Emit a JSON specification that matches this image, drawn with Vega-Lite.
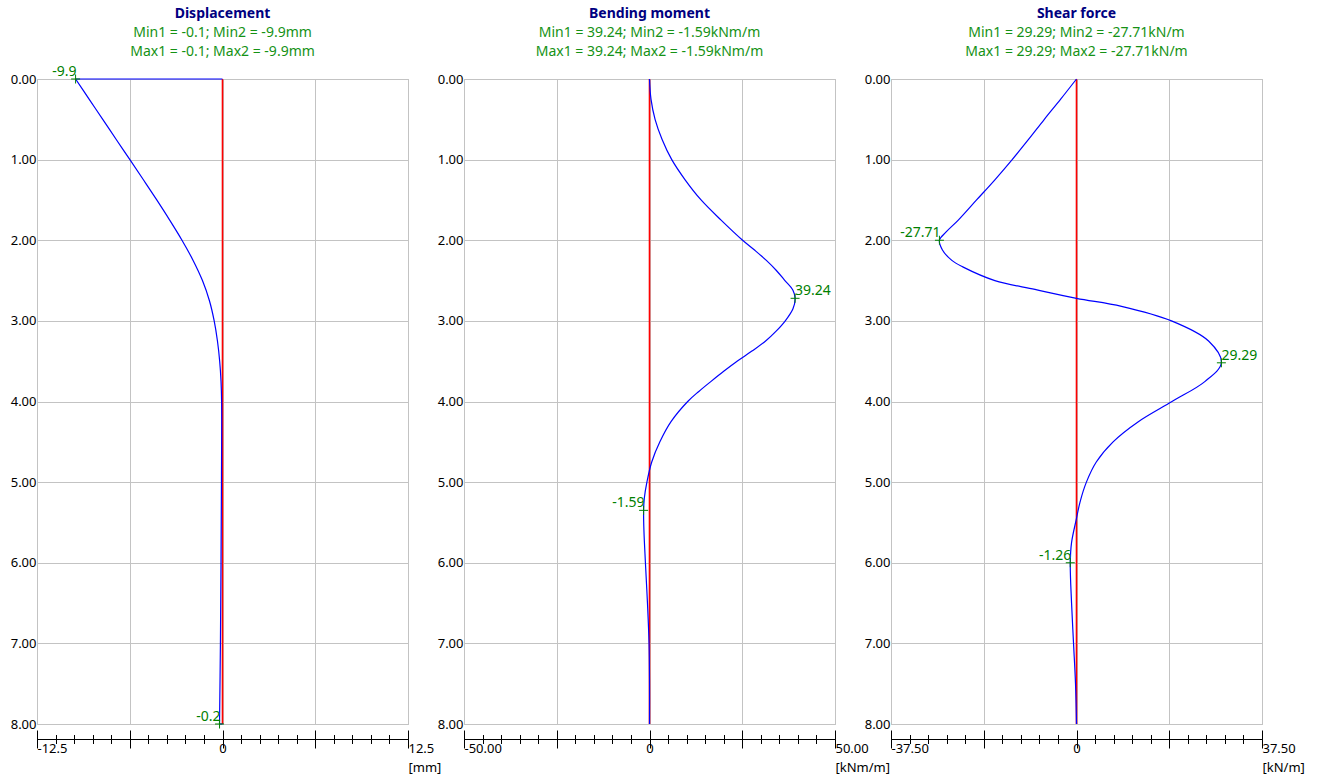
{
  "$schema": "https://vega.github.io/schema/vega-lite/v6.json",
  "background": "white",
  "padding": {"left": 9, "top": 6, "right": 5, "bottom": 5},
  "bounds": "flush",
  "spacing": 56,
  "datasets": {
    "zero": [{"v": 0, "d": 0}, {"v": 0, "d": 8}],
    "disp": [
      {"i": 0, "seg": "top", "v": 0, "d": 0}, {"i": 1, "seg": "top", "v": -9.9, "d": 0},
      {"i": 2, "seg": "curve", "v": -9.9, "d": 0}, {"i": 3, "seg": "curve", "v": -8.99, "d": 0.25}, {"i": 4, "seg": "curve", "v": -8.07, "d": 0.5},
      {"i": 5, "seg": "curve", "v": -7.16, "d": 0.75}, {"i": 6, "seg": "curve", "v": -6.24, "d": 1.0}, {"i": 7, "seg": "curve", "v": -5.33, "d": 1.25}, {"i": 8, "seg": "curve", "v": -4.43, "d": 1.5},
      {"i": 9, "seg": "curve", "v": -3.56, "d": 1.75}, {"i": 10, "seg": "curve", "v": -2.73, "d": 2.0}, {"i": 11, "seg": "curve", "v": -1.98, "d": 2.25}, {"i": 12, "seg": "curve", "v": -1.35, "d": 2.5},
      {"i": 13, "seg": "curve", "v": -0.88, "d": 2.75}, {"i": 14, "seg": "curve", "v": -0.56, "d": 3.0}, {"i": 15, "seg": "curve", "v": -0.34, "d": 3.25}, {"i": 16, "seg": "curve", "v": -0.19, "d": 3.5},
      {"i": 17, "seg": "curve", "v": -0.1, "d": 3.75}, {"i": 18, "seg": "curve", "v": -0.06, "d": 4.0}, {"i": 19, "seg": "curve", "v": -0.07, "d": 5.0}, {"i": 20, "seg": "curve", "v": -0.1, "d": 6.0},
      {"i": 21, "seg": "curve", "v": -0.14, "d": 7.0}, {"i": 22, "seg": "curve", "v": -0.2, "d": 8.0},
      {"i": 23, "seg": "bottom", "v": -0.2, "d": 8.0}, {"i": 24, "seg": "bottom", "v": 0, "d": 8.0}
    ],
    "moment": [
      {"i": 0, "v": 0, "d": 0}, {"i": 1, "v": 0.4, "d": 0.25}, {"i": 2, "v": 1.5, "d": 0.5}, {"i": 3, "v": 3.4, "d": 0.75},
      {"i": 4, "v": 6.0, "d": 1.0}, {"i": 5, "v": 9.6, "d": 1.25}, {"i": 6, "v": 13.9, "d": 1.5}, {"i": 7, "v": 19.3, "d": 1.75},
      {"i": 8, "v": 25.1, "d": 2.0}, {"i": 9, "v": 28.4, "d": 2.125}, {"i": 10, "v": 31.5, "d": 2.25}, {"i": 11, "v": 34.2, "d": 2.375},
      {"i": 12, "v": 36.5, "d": 2.5}, {"i": 13, "v": 38.66, "d": 2.62}, {"i": 14, "v": 39.24, "d": 2.72}, {"i": 15, "v": 38.67, "d": 2.85},
      {"i": 16, "v": 36.6, "d": 3.0}, {"i": 17, "v": 34.2, "d": 3.125}, {"i": 18, "v": 31.3, "d": 3.25}, {"i": 19, "v": 27.6, "d": 3.375},
      {"i": 20, "v": 23.6, "d": 3.5}, {"i": 21, "v": 20.0, "d": 3.625}, {"i": 22, "v": 16.6, "d": 3.75}, {"i": 23, "v": 13.3, "d": 3.875},
      {"i": 24, "v": 10.3, "d": 4.0}, {"i": 25, "v": 5.8, "d": 4.25}, {"i": 26, "v": 2.8, "d": 4.5}, {"i": 27, "v": 0.6, "d": 4.75},
      {"i": 28, "v": -0.7, "d": 5.0}, {"i": 29, "v": -1.4, "d": 5.2}, {"i": 30, "v": -1.59, "d": 5.35}, {"i": 31, "v": -1.5, "d": 5.6},
      {"i": 32, "v": -1.1, "d": 6.0}, {"i": 33, "v": -0.55, "d": 6.5}, {"i": 34, "v": -0.12, "d": 7.0}, {"i": 35, "v": 0, "d": 7.5}, {"i": 36, "v": 0, "d": 8.0}
    ],
    "shear": [
      {"i": 0, "v": 0, "d": 0}, {"i": 1, "v": -3.2, "d": 0.25}, {"i": 2, "v": -6.5, "d": 0.5}, {"i": 3, "v": -9.7, "d": 0.75},
      {"i": 4, "v": -13.0, "d": 1.0}, {"i": 5, "v": -16.5, "d": 1.25}, {"i": 6, "v": -20.2, "d": 1.5}, {"i": 7, "v": -23.9, "d": 1.75},
      {"i": 8, "v": -26.4, "d": 1.9}, {"i": 9, "v": -27.71, "d": 2.0}, {"i": 10, "v": -27.1, "d": 2.12}, {"i": 11, "v": -25.2, "d": 2.25},
      {"i": 12, "v": -23.0, "d": 2.33}, {"i": 13, "v": -16.5, "d": 2.5}, {"i": 14, "v": -8.4, "d": 2.61}, {"i": 15, "v": 0, "d": 2.72},
      {"i": 16, "v": 9.1, "d": 2.82}, {"i": 17, "v": 19.2, "d": 3.0}, {"i": 18, "v": 26.7, "d": 3.25}, {"i": 19, "v": 29.29, "d": 3.52},
      {"i": 20, "v": 26.0, "d": 3.75}, {"i": 21, "v": 19.3, "d": 4.0}, {"i": 22, "v": 12.5, "d": 4.25}, {"i": 23, "v": 7.4, "d": 4.5},
      {"i": 24, "v": 4.0, "d": 4.75}, {"i": 25, "v": 2.0, "d": 5.0}, {"i": 26, "v": 0.7, "d": 5.25}, {"i": 27, "v": 0, "d": 5.45},
      {"i": 28, "v": -1.0, "d": 5.75}, {"i": 29, "v": -1.26, "d": 6.0}, {"i": 30, "v": -1.0, "d": 6.5}, {"i": 31, "v": -0.6, "d": 7.0},
      {"i": 32, "v": -0.2, "d": 7.5}, {"i": 33, "v": 0, "d": 8.0}
    ],
    "disp_pts": [{"v": -9.9, "d": 0, "label": "-9.9", "side": "L"}, {"v": -0.2, "d": 8, "label": "-0.2", "side": "L"}],
    "moment_pts": [{"v": 39.24, "d": 2.72, "label": "39.24", "side": "R"}, {"v": -1.59, "d": 5.35, "label": "-1.59", "side": "L"}],
    "shear_pts": [{"v": -27.71, "d": 2.0, "label": "-27.71", "side": "L"}, {"v": 29.29, "d": 3.52, "label": "29.29", "side": "R"}, {"v": -1.26, "d": 6.0, "label": "-1.26", "side": "L"}]
  },
  "hconcat": [
    {
      "width": 371, "height": 645,
      "title": {"text": "Displacement", "subtitle": ["Min1 = -0.1; Min2 = -9.9mm", "Max1 = -0.1; Max2 = -9.9mm"]},
      "resolve": {"axis": {"x": "independent", "y": "independent"}},
      "layer": [
        {
          "data": {"name": "zero"},
          "mark": {"type": "line", "color": "#ff0000", "strokeWidth": 1.6},
          "encoding": {
            "x": {"field": "v", "type": "quantitative", "scale": {"domain": [-12.5, 12.5], "nice": false, "zero": false},
              "axis": {"orient": "bottom", "offset": 15, "values": [-12.5,-11.25,-10,-8.75,-7.5,-6.25,-5,-3.75,-2.5,-1.25,0,1.25,2.5,3.75,5,6.25,7.5,8.75,10,11.25,12.5], "tickSize": 4.5, "domain": false, "labels": false, "grid": false, "title": null}},
            "y": {"field": "d", "type": "quantitative", "scale": {"domain": [0, 8], "reverse": true, "nice": false, "zero": false},
              "axis": {"orient": "left", "values": [0,1,2,3,4,5,6,7,8], "format": ".2f", "ticks": false, "domain": false, "labelPadding": 1, "grid": true, "title": null}}
          }
        },
        {
          "data": {"name": "disp"},
          "mark": {"type": "line", "color": "#0000ff", "strokeWidth": 1.2, "interpolate": "catmull-rom"},
          "encoding": {
            "x": {"field": "v", "type": "quantitative", "scale": {"domain": [-12.5, 12.5], "nice": false, "zero": false},
              "axis": {"orient": "bottom", "offset": 15, "values": [-12.5, -6.25, 0, 6.25, 12.5], "tickSize": 9, "domain": true, "grid": true,
                "labelExpr": "datum.value == 0 ? '0' : datum.value < -12 ? '-12.5' : datum.value > 12 ? '12.5' : ''",
                "labelAlign": {"condition": {"test": "datum.value == 0", "value": "center"}, "value": "left"},
                "labelFlush": false, "labelOverlap": false, "labelBound": false, "labelPadding": -6,
                "title": "[mm]", "titleAnchor": "end", "titleAlign": "left", "titlePadding": 6}},
            "y": {"field": "d", "type": "quantitative", "scale": {"domain": [0, 8], "reverse": true, "nice": false, "zero": false}, "axis": null},
            "detail": {"field": "seg"},
            "order": {"field": "i"}
          }
        },
        {
          "data": {"name": "disp_pts"},
          "mark": {"type": "point", "shape": "M-1,0H1M0,-1V1", "size": 81, "filled": false, "stroke": "#008000", "strokeWidth": 1, "opacity": 1},
          "encoding": {
            "x": {"field": "v", "type": "quantitative", "scale": {"domain": [-12.5, 12.5], "nice": false, "zero": false},
              "axis": {"orient": "bottom", "offset": 6, "values": [-12.5, -6.25, 0, 6.25, 12.5], "tickSize": 9, "domain": false, "labels": false, "grid": false, "title": null}},
            "y": {"field": "d", "type": "quantitative", "scale": {"domain": [0, 8], "reverse": true, "nice": false, "zero": false}, "axis": null}
          }
        },
        {
          "data": {"name": "disp_pts"},
          "transform": [{"filter": "datum.side == 'L'"}],
          "mark": {"type": "text", "align": "right", "baseline": "alphabetic", "dx": 1, "dy": -3, "fontSize": 14, "color": "#008000"},
          "encoding": {
            "x": {"field": "v", "type": "quantitative", "scale": {"domain": [-12.5, 12.5], "nice": false, "zero": false},
              "axis": {"orient": "bottom", "offset": 10.5, "values": [-12.5,-11.25,-10,-8.75,-7.5,-6.25,-5,-3.75,-2.5,-1.25,0,1.25,2.5,3.75,5,6.25,7.5,8.75,10,11.25,12.5], "tickSize": 4.5, "domain": false, "labels": false, "grid": false, "title": null}},
            "y": {"field": "d", "type": "quantitative", "scale": {"domain": [0, 8], "reverse": true, "nice": false, "zero": false}, "axis": null},
            "text": {"field": "label"}
          }
        }
      ]
    },
    {
      "width": 371, "height": 645,
      "title": {"text": "Bending moment", "subtitle": ["Min1 = 39.24; Min2 = -1.59kNm/m", "Max1 = 39.24; Max2 = -1.59kNm/m"], "dy": -8},
      "resolve": {"axis": {"x": "independent", "y": "independent"}},
      "layer": [
        {
          "data": {"name": "zero"},
          "mark": {"type": "line", "color": "#ff0000", "strokeWidth": 1.6},
          "encoding": {
            "x": {"field": "v", "type": "quantitative", "scale": {"domain": [-50, 50], "nice": false, "zero": false},
              "axis": {"orient": "bottom", "offset": 15, "values": [-50,-45,-40,-35,-30,-25,-20,-15,-10,-5,0,5,10,15,20,25,30,35,40,45,50], "tickSize": 4.5, "domain": false, "labels": false, "grid": false, "title": null}},
            "y": {"field": "d", "type": "quantitative", "scale": {"domain": [0, 8], "reverse": true, "nice": false, "zero": false},
              "axis": {"orient": "left", "values": [0,1,2,3,4,5,6,7,8], "format": ".2f", "ticks": false, "domain": false, "labelPadding": 1, "grid": true, "title": null}}
          }
        },
        {
          "data": {"name": "moment"},
          "mark": {"type": "line", "color": "#0000ff", "strokeWidth": 1.2, "interpolate": "catmull-rom"},
          "encoding": {
            "x": {"field": "v", "type": "quantitative", "scale": {"domain": [-50, 50], "nice": false, "zero": false},
              "axis": {"orient": "bottom", "offset": 15, "values": [-50, -25, 0, 25, 50], "tickSize": 9, "domain": true, "grid": true,
                "labelExpr": "datum.value == 0 ? '0' : datum.value < -49 ? '-50.00' : datum.value > 49 ? '50.00' : ''",
                "labelAlign": {"condition": {"test": "datum.value == 0", "value": "center"}, "value": "left"},
                "labelFlush": false, "labelOverlap": false, "labelBound": false, "labelPadding": -6,
                "title": "[kNm/m]", "titleAnchor": "end", "titleAlign": "left", "titlePadding": 6}},
            "y": {"field": "d", "type": "quantitative", "scale": {"domain": [0, 8], "reverse": true, "nice": false, "zero": false}, "axis": null},
            "order": {"field": "i"}
          }
        },
        {
          "data": {"name": "moment_pts"},
          "mark": {"type": "point", "shape": "M-1,0H1M0,-1V1", "size": 81, "filled": false, "stroke": "#008000", "strokeWidth": 1, "opacity": 1},
          "encoding": {
            "x": {"field": "v", "type": "quantitative", "scale": {"domain": [-50, 50], "nice": false, "zero": false},
              "axis": {"orient": "bottom", "offset": 6, "values": [-50, -25, 0, 25, 50], "tickSize": 9, "domain": false, "labels": false, "grid": false, "title": null}},
            "y": {"field": "d", "type": "quantitative", "scale": {"domain": [0, 8], "reverse": true, "nice": false, "zero": false}, "axis": null}
          }
        },
        {
          "data": {"name": "moment_pts"},
          "transform": [{"filter": "datum.side == 'L'"}],
          "mark": {"type": "text", "align": "right", "baseline": "alphabetic", "dx": 1, "dy": -3, "fontSize": 14, "color": "#008000"},
          "encoding": {
            "x": {"field": "v", "type": "quantitative", "scale": {"domain": [-50, 50], "nice": false, "zero": false},
              "axis": {"orient": "bottom", "offset": 10.5, "values": [-50,-45,-40,-35,-30,-25,-20,-15,-10,-5,0,5,10,15,20,25,30,35,40,45,50], "tickSize": 4.5, "domain": false, "labels": false, "grid": false, "title": null}},
            "y": {"field": "d", "type": "quantitative", "scale": {"domain": [0, 8], "reverse": true, "nice": false, "zero": false}, "axis": null},
            "text": {"field": "label"}
          }
        },
        {
          "data": {"name": "moment_pts"},
          "transform": [{"filter": "datum.side == 'R'"}],
          "mark": {"type": "text", "align": "left", "baseline": "alphabetic", "dx": 0, "dy": -3, "fontSize": 14, "color": "#008000"},
          "encoding": {
            "x": {"field": "v", "type": "quantitative", "scale": {"domain": [-50, 50], "nice": false, "zero": false}, "axis": null},
            "y": {"field": "d", "type": "quantitative", "scale": {"domain": [0, 8], "reverse": true, "nice": false, "zero": false}, "axis": null},
            "text": {"field": "label"}
          }
        }
      ]
    },
    {
      "width": 371, "height": 645,
      "title": {"text": "Shear force", "subtitle": ["Min1 = 29.29; Min2 = -27.71kN/m", "Max1 = 29.29; Max2 = -27.71kN/m"], "dy": -8},
      "resolve": {"axis": {"x": "independent", "y": "independent"}},
      "layer": [
        {
          "data": {"name": "zero"},
          "mark": {"type": "line", "color": "#ff0000", "strokeWidth": 1.6},
          "encoding": {
            "x": {"field": "v", "type": "quantitative", "scale": {"domain": [-37.5, 37.5], "nice": false, "zero": false},
              "axis": {"orient": "bottom", "offset": 15, "values": [-37.5,-33.75,-30,-26.25,-22.5,-18.75,-15,-11.25,-7.5,-3.75,0,3.75,7.5,11.25,15,18.75,22.5,26.25,30,33.75,37.5], "tickSize": 4.5, "domain": false, "labels": false, "grid": false, "title": null}},
            "y": {"field": "d", "type": "quantitative", "scale": {"domain": [0, 8], "reverse": true, "nice": false, "zero": false},
              "axis": {"orient": "left", "values": [0,1,2,3,4,5,6,7,8], "format": ".2f", "ticks": false, "domain": false, "labelPadding": 1, "grid": true, "title": null}}
          }
        },
        {
          "data": {"name": "shear"},
          "mark": {"type": "line", "color": "#0000ff", "strokeWidth": 1.2, "interpolate": "catmull-rom"},
          "encoding": {
            "x": {"field": "v", "type": "quantitative", "scale": {"domain": [-37.5, 37.5], "nice": false, "zero": false},
              "axis": {"orient": "bottom", "offset": 15, "values": [-37.5, -18.75, 0, 18.75, 37.5], "tickSize": 9, "domain": true, "grid": true,
                "labelExpr": "datum.value == 0 ? '0' : datum.value < -37 ? '-37.50' : datum.value > 37 ? '37.50' : ''",
                "labelAlign": {"condition": {"test": "datum.value == 0", "value": "center"}, "value": "left"},
                "labelFlush": false, "labelOverlap": false, "labelBound": false, "labelPadding": -6,
                "title": "[kN/m]", "titleAnchor": "end", "titleAlign": "left", "titlePadding": 6}},
            "y": {"field": "d", "type": "quantitative", "scale": {"domain": [0, 8], "reverse": true, "nice": false, "zero": false}, "axis": null},
            "order": {"field": "i"}
          }
        },
        {
          "data": {"name": "shear_pts"},
          "mark": {"type": "point", "shape": "M-1,0H1M0,-1V1", "size": 81, "filled": false, "stroke": "#008000", "strokeWidth": 1, "opacity": 1},
          "encoding": {
            "x": {"field": "v", "type": "quantitative", "scale": {"domain": [-37.5, 37.5], "nice": false, "zero": false},
              "axis": {"orient": "bottom", "offset": 6, "values": [-37.5, -18.75, 0, 18.75, 37.5], "tickSize": 9, "domain": false, "labels": false, "grid": false, "title": null}},
            "y": {"field": "d", "type": "quantitative", "scale": {"domain": [0, 8], "reverse": true, "nice": false, "zero": false}, "axis": null}
          }
        },
        {
          "data": {"name": "shear_pts"},
          "transform": [{"filter": "datum.side == 'L'"}],
          "mark": {"type": "text", "align": "right", "baseline": "alphabetic", "dx": 1, "dy": -3, "fontSize": 14, "color": "#008000"},
          "encoding": {
            "x": {"field": "v", "type": "quantitative", "scale": {"domain": [-37.5, 37.5], "nice": false, "zero": false},
              "axis": {"orient": "bottom", "offset": 10.5, "values": [-37.5,-33.75,-30,-26.25,-22.5,-18.75,-15,-11.25,-7.5,-3.75,0,3.75,7.5,11.25,15,18.75,22.5,26.25,30,33.75,37.5], "tickSize": 4.5, "domain": false, "labels": false, "grid": false, "title": null}},
            "y": {"field": "d", "type": "quantitative", "scale": {"domain": [0, 8], "reverse": true, "nice": false, "zero": false}, "axis": null},
            "text": {"field": "label"}
          }
        },
        {
          "data": {"name": "shear_pts"},
          "transform": [{"filter": "datum.side == 'R'"}],
          "mark": {"type": "text", "align": "left", "baseline": "alphabetic", "dx": 0, "dy": -3, "fontSize": 14, "color": "#008000"},
          "encoding": {
            "x": {"field": "v", "type": "quantitative", "scale": {"domain": [-37.5, 37.5], "nice": false, "zero": false}, "axis": null},
            "y": {"field": "d", "type": "quantitative", "scale": {"domain": [0, 8], "reverse": true, "nice": false, "zero": false}, "axis": null},
            "text": {"field": "label"}
          }
        }
      ]
    }
  ],
  "config": {
    "font": "Noto Sans",
    "view": {"stroke": "#b4b4b4", "strokeWidth": 1},
    "axis": {"labelFont": "Noto Sans", "titleFont": "Noto Sans", "labelColor": "black", "titleColor": "black", "tickColor": "black", "domainColor": "black",
      "gridColor": "#c3c3c3", "gridWidth": 1, "labelFontSize": 13, "titleFontSize": 13, "titleFontWeight": "normal", "tickWidth": 1, "domainWidth": 1},
    "title": {"font": "Noto Sans", "fontSize": 14, "fontWeight": "bold", "color": "#000080", "subtitleFont": "Noto Sans", "subtitleFontSize": 14,
      "subtitleColor": "#159215", "subtitleLineHeight": 19, "subtitlePadding": 5, "offset": 6, "frame": "group", "anchor": "middle"}
  }
}
